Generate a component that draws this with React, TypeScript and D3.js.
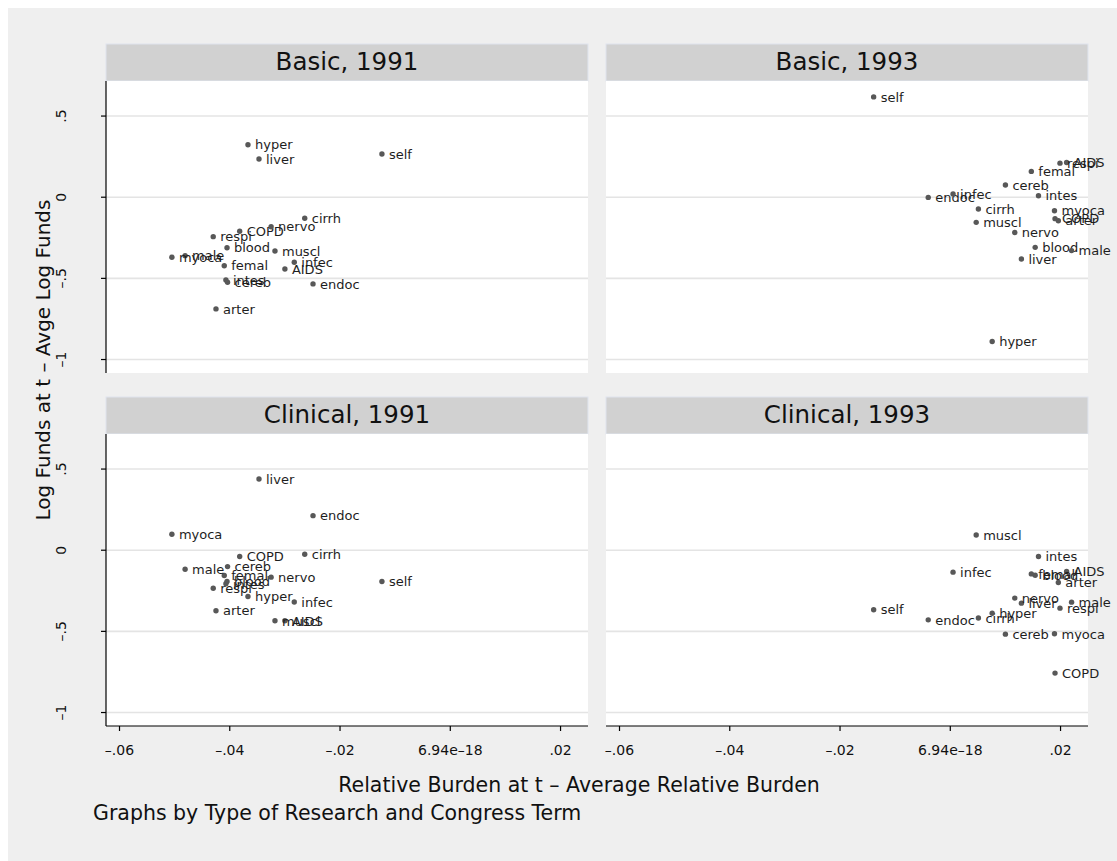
import React from "react";
import * as d3 from "d3";

// ---------------- data ----------------
const diseases = ["AIDS", "arter", "blood", "cereb", "cirrh", "COPD", "endoc", "femal", "hyper", "infec", "intes", "liver", "male", "muscl", "myoca", "nervo", "respi", "self"];
const burden1991 = [-0.0300, -0.0425, -0.0405, -0.0404, -0.0264, -0.0382, -0.0249, -0.0410, -0.0367, -0.0283, -0.0407, -0.0347, -0.0481, -0.0318, -0.0505, -0.0325, -0.0430, -0.0124];
const burden1993 = [0.0211, 0.0196, 0.0154, 0.0100, 0.0051, 0.0190, -0.0040, 0.0147, 0.0076, 0.0005, 0.0160, 0.0129, 0.0220, 0.0047, 0.0189, 0.0117, 0.0199, -0.0139];
const fundsBasic1991 = [-0.442, -0.688, -0.311, -0.524, -0.130, -0.210, -0.534, -0.422, 0.323, -0.401, -0.510, 0.235, -0.360, -0.331, -0.370, -0.182, -0.243, 0.266];
const fundsBasic1993 = [0.214, -0.145, -0.309, 0.075, -0.073, -0.132, -0.001, 0.159, -0.889, 0.020, 0.009, -0.381, -0.329, -0.155, -0.083, -0.217, 0.210, 0.618];
const fundsClinical1991 = [-0.435, -0.373, -0.192, -0.101, -0.025, -0.039, 0.213, -0.156, -0.285, -0.319, -0.207, 0.439, -0.117, -0.435, 0.098, -0.166, -0.234, -0.193];
const fundsClinical1993 = [-0.131, -0.199, -0.154, -0.517, -0.418, -0.757, -0.429, -0.146, -0.388, -0.135, -0.039, -0.326, -0.320, 0.094, -0.515, -0.295, -0.357, -0.367];

const panelTitles = ["Basic, 1991", "Basic, 1993", "Clinical, 1991", "Clinical, 1993"];
const xTickValues = [-0.06, -0.04, -0.02, 6.94e-18, 0.02];
const xTickLabels = ["\u2013.06", "\u2013.04", "\u2013.02", "6.94e\u201318", ".02"];
const yTickValues = [-1, -0.5, 0, 0.5];
const yTickLabels = ["\u20131", "\u2013.5", "0", ".5"];
const xTitle = "Relative Burden at t \u2013 Average Relative Burden";
const yTitle = "Log Funds at t \u2013 Avge Log Funds";
const noteText = "Graphs by Type of Research and Congress Term";

// ---------------- layout ----------------
const W = 1117;
const H = 861;
const FONT = "'DejaVu Sans', 'Liberation Sans', Arial, sans-serif";
const colX = [106, 606];
const panelW = 482;
const rowY = [81, 434];
const panelH = 292;
const headerH = 37;
const xDomain: [number, number] = [-0.06245, 0.02498];
const yDomain: [number, number] = [-1.083, 0.716];

const panels = [
  { title: panelTitles[0], xs: burden1991, ys: fundsBasic1991, col: 0, row: 0 },
  { title: panelTitles[1], xs: burden1993, ys: fundsBasic1993, col: 1, row: 0 },
  { title: panelTitles[2], xs: burden1991, ys: fundsClinical1991, col: 0, row: 1 },
  { title: panelTitles[3], xs: burden1993, ys: fundsClinical1993, col: 1, row: 1 },
];

function Panel({ p }: { p: typeof panels[number] }) {
  const x0 = colX[p.col];
  const y0 = rowY[p.row];
  const x = d3.scaleLinear().domain(xDomain).range([x0, x0 + panelW]);
  const y = d3.scaleLinear().domain(yDomain).range([y0 + panelH, y0]);
  const showY = p.col === 0;
  const showX = p.row === 1;
  return (
    <g>
      <rect x={x0} y={y0 - headerH} width={panelW} height={headerH} fill="#d1d1d1" stroke="#dfe4ee" strokeWidth={1} />
      <text x={x0 + panelW / 2} y={y0 - 11.5} textAnchor="middle" fontSize={24.5} fill="#111">{p.title}</text>
      <rect x={x0} y={y0} width={panelW} height={panelH} fill="#ffffff" />
      {yTickValues.map((v) => (
        <line key={"g" + v} x1={x0} x2={x0 + panelW} y1={y(v)} y2={y(v)} stroke="#e4e4e4" strokeWidth={1.6} />
      ))}
      {showY && (
        <g>
          <line x1={x0} x2={x0} y1={y0} y2={y0 + panelH} stroke="#000" strokeWidth={1.2} />
          {yTickValues.map((v, i) => (
            <g key={"yt" + v}>
              <line x1={x0 - 5} x2={x0} y1={y(v)} y2={y(v)} stroke="#000" strokeWidth={1.2} />
              <text transform={`translate(${x0 - 40},${y(v)}) rotate(-90)`} textAnchor="middle" fontSize={14} fill="#111">{yTickLabels[i]}</text>
            </g>
          ))}
        </g>
      )}
      {showX && (
        <g>
          <line x1={x0} x2={x0 + panelW} y1={y0 + panelH} y2={y0 + panelH} stroke="#000" strokeWidth={1.2} />
          {xTickValues.map((v, i) => (
            <g key={"xt" + i}>
              <line x1={x(v)} x2={x(v)} y1={y0 + panelH} y2={y0 + panelH + 5} stroke="#000" strokeWidth={1.2} />
              <text x={x(v)} y={y0 + panelH + 29} textAnchor="middle" fontSize={14} fill="#111">{xTickLabels[i]}</text>
            </g>
          ))}
        </g>
      )}
      {diseases.map((d, i) => (
        <g key={d}>
          <circle cx={x(p.xs[i])} cy={y(p.ys[i])} r={2.7} fill="#585858" />
          <text x={x(p.xs[i]) + 7} y={y(p.ys[i]) + 4.7} fontSize={13} fill="#1e1e1e">{d}</text>
        </g>
      ))}
    </g>
  );
}

export default function App() {
  return (
    <svg width={W} height={H} style={{ position: "absolute", left: 0, top: 0 }} fontFamily={FONT}>
      <rect x={0} y={0} width={W} height={H} fill="#ffffff" />
      <rect x={8} y={8} width={W - 8} height={H - 8} fill="#efefef" />
      {panels.map((p) => (
        <Panel key={p.title} p={p} />
      ))}
      <text transform={`translate(50,360) rotate(-90)`} textAnchor="middle" fontSize={20} fill="#111">{yTitle}</text>
      <text x={579} y={792} textAnchor="middle" fontSize={20.5} fill="#111">{xTitle}</text>
      <text x={93} y={820} fontSize={20.5} fill="#111">{noteText}</text>
    </svg>
  );
}
